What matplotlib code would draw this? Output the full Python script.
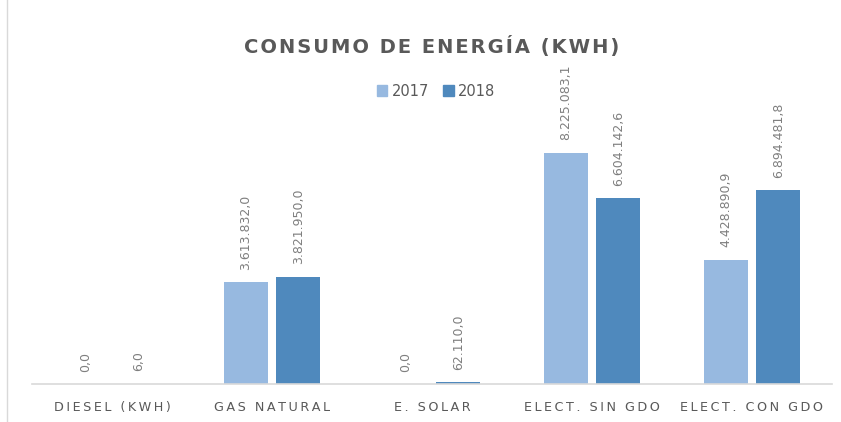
#!/usr/bin/env python3
"""
Consumo de energía (kWh) 2017 vs 2018 - grouped bar chart
"""

import matplotlib
matplotlib.use('Agg')
import matplotlib.pyplot as plt
from matplotlib.lines import Line2D
import numpy as np

categories = ['DIESEL (KWH)', 'GAS NATURAL', 'E. SOLAR', 'ELECT. SIN GDO', 'ELECT. CON GDO']
values_2017 = [0.0, 3613832.0, 0.0, 8225083.1, 4428890.9]
values_2018 = [6.0, 3821950.0, 62110.0, 6604142.6, 6894481.8]
series_names = ['2017', '2018']
title = 'CONSUMO DE ENERGÍA (KWH)'

COLOR_2017 = '#97B9E0'
COLOR_2018 = '#4F89BD'
TEXT_GRAY = '#595959'
LABEL_GRAY = '#7F7F7F'


def fmt_es(v):
    """Spanish style: 1.234.567,8"""
    s = f'{v:,.1f}'
    return s.replace(',', '_').replace('.', ',').replace('_', '.')


def spaced(s, sep):
    # fake letter spacing like the Excel chart text
    return sep.join(s)


fig = plt.figure(figsize=(8.41, 4.22), dpi=100)
ax = fig.add_axes([32 / 841, 38 / 422, 800 / 841, 281 / 422])

x = np.arange(len(categories))
width = 0.275
offset = 0.165

bars17 = ax.bar(x - offset, values_2017, width, color=COLOR_2017, label=series_names[0])
bars18 = ax.bar(x + offset, values_2018, width, color=COLOR_2018, label=series_names[1])

for bars in (bars17, bars18):
    for b in bars:
        h = b.get_height()
        ax.annotate(fmt_es(h), (b.get_x() + b.get_width() / 2, h),
                    textcoords='offset points', xytext=(0, 9),
                    rotation=90, ha='center', va='bottom',
                    fontsize=9, color=LABEL_GRAY, annotation_clip=False)

ax.set_xlim(-0.5, len(categories) - 0.5)
ax.set_ylim(0, 1e7)
ax.set_yticks([])
ax.set_xticks(x)
ax.set_xticklabels([spaced(c, '\u2009') for c in categories], fontsize=9.2, color=TEXT_GRAY)
ax.tick_params(axis='x', length=0, pad=12)
for side in ('top', 'right', 'left'):
    ax.spines[side].set_visible(False)
ax.spines['bottom'].set_color('#D9D9D9')
ax.spines['bottom'].set_linewidth(1.2)

fig.text(432 / 841, 1 - 47 / 422, spaced(title, '\u200a'), ha='center', va='center',
         fontsize=14, fontweight='bold', color=TEXT_GRAY)

handles = [plt.Rectangle((0, 0), 1, 1, color=COLOR_2017),
           plt.Rectangle((0, 0), 1, 1, color=COLOR_2018)]
fig.legend(handles, series_names, loc='center', bbox_to_anchor=(436 / 841, 1 - 91 / 422),
           ncol=2, frameon=False, fontsize=10.5, handlelength=0.7, handleheight=0.7,
           handletextpad=0.3, columnspacing=1.0, labelcolor=TEXT_GRAY)

# faint frame edge on the left as in the source screenshot
fig.add_artist(Line2D([7 / 841, 7 / 841], [0, 1], color='#D9D9D9', linewidth=1,
                      transform=fig.transFigure))

plt.savefig('out.png', dpi=100)
plt.close()
